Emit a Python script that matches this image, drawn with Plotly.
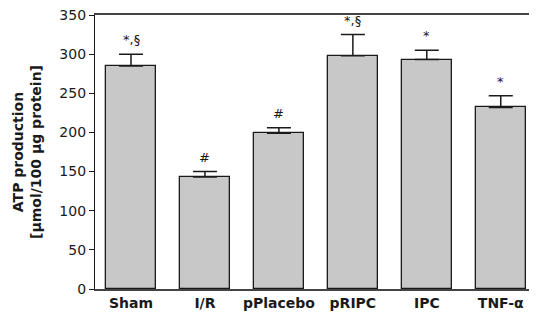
import plotly.graph_objects as go

categories = ["Sham", "I/R", "pPlacebo", "pRIPC", "IPC", "TNF-α"]
values = [285, 143, 199, 298, 293, 232]
errors = [15, 7, 7, 27, 12, 15]
markers = ["*,§", "#", "#", "*,§", "*", "*"]
y_ticks = [0, 50, 100, 150, 200, 250, 300, 350]

FONT = "DejaVu Sans"
INK = "#1a1a1a"

fig = go.Figure()
fig.add_trace(go.Bar(
    x=list(range(len(categories))),
    y=values,
    width=0.68,
    marker=dict(color="#c8c8c8", line=dict(color=INK, width=1.3)),
    error_y=dict(type="data", symmetric=False, array=errors,
                 arrayminus=[0] * len(errors), color=INK,
                 thickness=1.5, width=12),
))

for i, (v, e, m) in enumerate(zip(values, errors, markers)):
    fig.add_annotation(x=i, y=v + e, text=m, showarrow=False,
                       yanchor="bottom", yshift=5,
                       font=dict(family=FONT, size=13, color=INK))

# page body has an 8px margin, so the figure is sized to fit the window
fig.update_layout(
    width=529, height=312,
    margin=dict(l=87, r=0, t=7, b=31),
    plot_bgcolor="white", paper_bgcolor="white",
    showlegend=False,
    bargap=0,
    font=dict(family=FONT, size=14, color=INK),
)
fig.update_xaxes(
    range=[-0.487, 5.49],
    tickvals=list(range(len(categories))), ticktext=categories,
    showline=True, linecolor="#444444", linewidth=1.5, mirror=True,
    ticks="", showgrid=False, zeroline=False,
    tickfont=dict(family=FONT, size=14, color=INK, weight="bold"),
)
fig.update_yaxes(
    range=[0, 350], tickvals=y_ticks,
    showline=True, linecolor=INK, linewidth=1.2,
    ticks="outside", ticklen=5, tickcolor=INK,
    ticklabeloverflow="allow",
    showgrid=False, zeroline=False,
    tickfont=dict(family=FONT, size=14, color=INK),
    title=dict(text="ATP production<br>[µmol/100 µg protein]",
               font=dict(family=FONT, size=14, color=INK, weight="bold"),
               standoff=14),
)

fig.write_html("out.html")
